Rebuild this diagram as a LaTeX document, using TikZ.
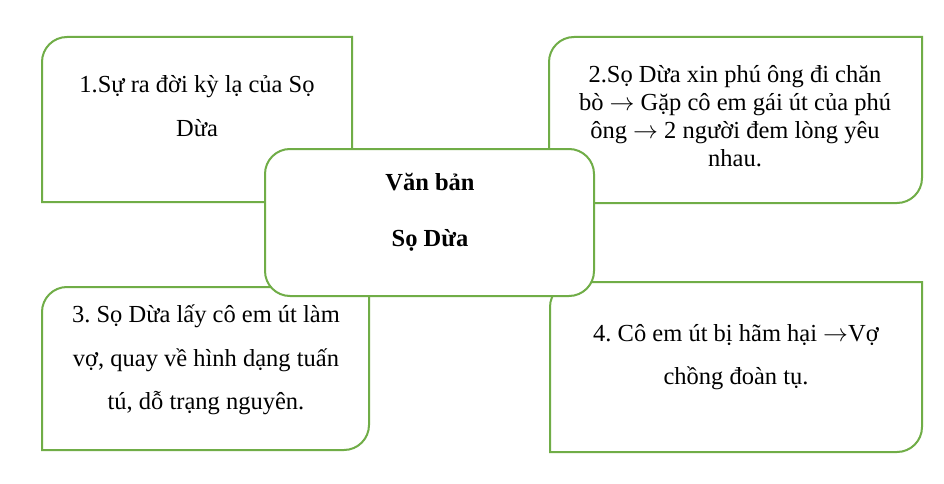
\documentclass[tikz,border=0pt]{standalone}
\usepackage{fontspec}
\setmainfont{Liberation Serif}
\usepackage{xcolor}
\usepackage{tikz}
\definecolor{boxgreen}{RGB}{112,173,71}
\newcommand{\arr}{$\rightarrow$}
\frenchspacing
\tikzset{
  % box outline
  frame/.style={draw=boxgreen, line width=2pt, fill=white},
  % text, 1.5 line spacing
  txt/.style={align=center, font=\fontsize{24.5}{43.5}\selectfont},
  % text, single spacing
  tighttxt/.style={align=center, font=\fontsize{24.5}{28}\selectfont},
  % title in the middle box
  titletxt/.style={align=center, font=\fontsize{24.5}{56}\selectfont\bfseries},
}

\begin{document}
\begin{tikzpicture}[x=1pt, y=-1pt]
    \fill[white] (0,0) rectangle (944,484);
    \useasboundingbox (0,0) rectangle (944,484);

    % 1: top left
    \draw[frame] (42,202) -- (42,62) arc(180:270:25) -- (352,37) -- (352,202) -- cycle;
    \node[txt] (birth) at (197,106) {1.Sự ra đời kỳ lạ của Sọ\\Dừa};

    % 2: top right
    \draw[frame] (549,203) -- (549,62) arc(180:270:25) -- (922,37) -- (922,178) arc(0:90:25) -- cycle;
    \node[tighttxt] (herding) at (735,116) {2.Sọ Dừa xin phú ông đi chăn\\bò \arr{} Gặp cô em gái út của phú\\ông \arr{} 2 người đem lòng yêu\\nhau.};

    % 3: bottom left
    \draw[frame] (42,450) -- (42,312) arc(180:270:25) -- (369,287) -- (369,425) arc(0:90:25) -- cycle;
    \node[txt] (marriage) at (206,360) {3. Sọ Dừa lấy cô em út làm\\vợ, quay về hình dạng tuấn\\tú, dỗ trạng nguyên.};

    % 4: bottom right
    \draw[frame] (550,452) -- (550,307) arc(180:270:25) -- (922,282) -- (922,427) arc(0:90:25) -- cycle;
    \node[txt] (reunion) at (736,357) {4. Cô em út bị hãm hại \arr{}Vợ\\chồng đoàn tụ.};

    % middle box on top
    \draw[frame, rounded corners=25pt] (265,149) rectangle (594,296);
    \node[titletxt] (title) at (430,212) {Văn bản\\Sọ Dừa};
\end{tikzpicture}
\end{document}
